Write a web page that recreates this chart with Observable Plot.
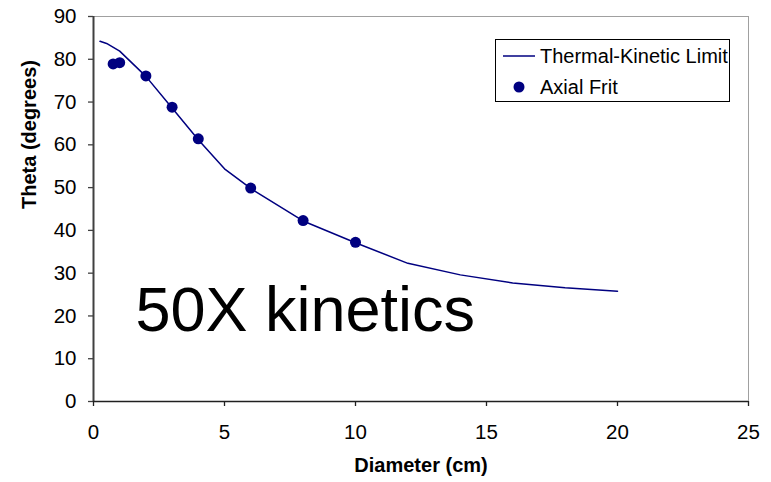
<!DOCTYPE html>
<html>
<head>
<meta charset="utf-8">
<script src="https://cdn.jsdelivr.net/npm/d3@7"></script>
<script src="https://cdn.jsdelivr.net/npm/@observablehq/plot@0.6"></script>
<style>
  html, body { margin: 0; padding: 0; background: #fff; }
  #chart { width: 771px; height: 482px; }
</style>
</head>
<body>
<div id="chart"></div>
<script>
// Thermal-Kinetic Limit curve
const limitDiameter = [0.25, 0.5, 1, 2, 3, 4, 5, 6, 8, 10, 12, 14, 16, 18, 20];
const limitTheta    = [84.2, 83.7, 81.9, 76.0, 68.6, 61.2, 54.4, 49.8, 42.2, 37.1, 32.3, 29.6, 27.7, 26.6, 25.8];
// Axial Frit measurements
const fritDiameter = [0.75, 1, 2, 3, 4, 6, 8, 10];
const fritTheta    = [78.9, 79.2, 76.1, 68.8, 61.4, 49.9, 42.3, 37.2];
// Axis ticks
const xTicks = [0, 5, 10, 15, 20, 25];
const yTicks = [0, 10, 20, 30, 40, 50, 60, 70, 80, 90];
// Texts
const xLabel = "Diameter (cm)";
const yLabel = "Theta (degrees)";
const annotation = "50X kinetics";
const seriesNames = ["Thermal-Kinetic Limit", "Axial Frit"];

const limit = limitDiameter.map((d, i) => ({x: d, y: limitTheta[i]}));
const frit = fritDiameter.map((d, i) => ({x: d, y: fritTheta[i]}));
const navy = "#000080";

const chart = Plot.plot({
  width: 771,
  height: 482,
  marginLeft: 93,
  marginRight: 23,
  marginTop: 16,
  marginBottom: 81,
  style: {fontFamily: "'Liberation Sans', Arial, sans-serif", fontSize: "20.5px", background: "#fff", color: "#000"},
  x: {domain: [0, 25]},
  y: {domain: [0, 90]},
  marks: [
    Plot.ruleY([90], {stroke: "#a0a0a0", strokeWidth: 1}),
    Plot.ruleX([25], {stroke: "#a0a0a0", strokeWidth: 1}),
    Plot.axisY({ticks: yTicks, tickSize: 5, tickPadding: 12, label: null, stroke: "#404040", strokeWidth: 1.3, strokeOpacity: 1}),
    Plot.axisX({ticks: xTicks, tickSize: 5, tickPadding: 18, label: null, stroke: "#202020", strokeWidth: 1.3, strokeOpacity: 1}),
    Plot.ruleX([0], {stroke: "#404040", strokeWidth: 2}),
    Plot.ruleY([0], {stroke: "#202020", strokeWidth: 1.5}),
    Plot.line(limit, {x: "x", y: "y", stroke: navy, strokeWidth: 1.5}),
    Plot.dot(frit, {x: "x", y: "y", r: 5.5, fill: navy, stroke: "none"}),
    Plot.text([annotation], {x: 1.6, y: 16.4, text: d => d, textAnchor: "start", lineAnchor: "bottom", fontSize: 63, fill: "#000"}),
    Plot.text([yLabel], {frameAnchor: "left", text: d => d, dx: -64, rotate: -90, fontWeight: "bold", fontSize: 20, fill: "#000"}),
    Plot.text([xLabel], {frameAnchor: "bottom", text: d => d, dy: 70, fontWeight: "bold", fontSize: 20, fill: "#000"})
  ]
});

// Legend (inside the plot area, as in the reference)
const svg = d3.select(chart);
const lg = svg.append("g")
  .attr("font-family", "'Liberation Sans', Arial, sans-serif")
  .attr("font-size", 20)
  .attr("text-anchor", "start");
lg.append("rect").attr("x", 495.5).attr("y", 39.5).attr("width", 234).attr("height", 62)
  .attr("fill", "#fff").attr("stroke", "#000").attr("stroke-width", 1);
lg.append("line").attr("x1", 503).attr("x2", 535).attr("y1", 56).attr("y2", 56)
  .attr("stroke", navy).attr("stroke-width", 1.5);
lg.append("circle").attr("cx", 519).attr("cy", 87).attr("r", 5.5).attr("fill", navy);
lg.append("text").attr("x", 540).attr("y", 63).attr("text-anchor", "start").attr("fill", "#000").text(seriesNames[0]);
lg.append("text").attr("x", 540).attr("y", 94).attr("text-anchor", "start").attr("fill", "#000").text(seriesNames[1]);

document.getElementById("chart").append(chart);
</script>
</body>
</html>
